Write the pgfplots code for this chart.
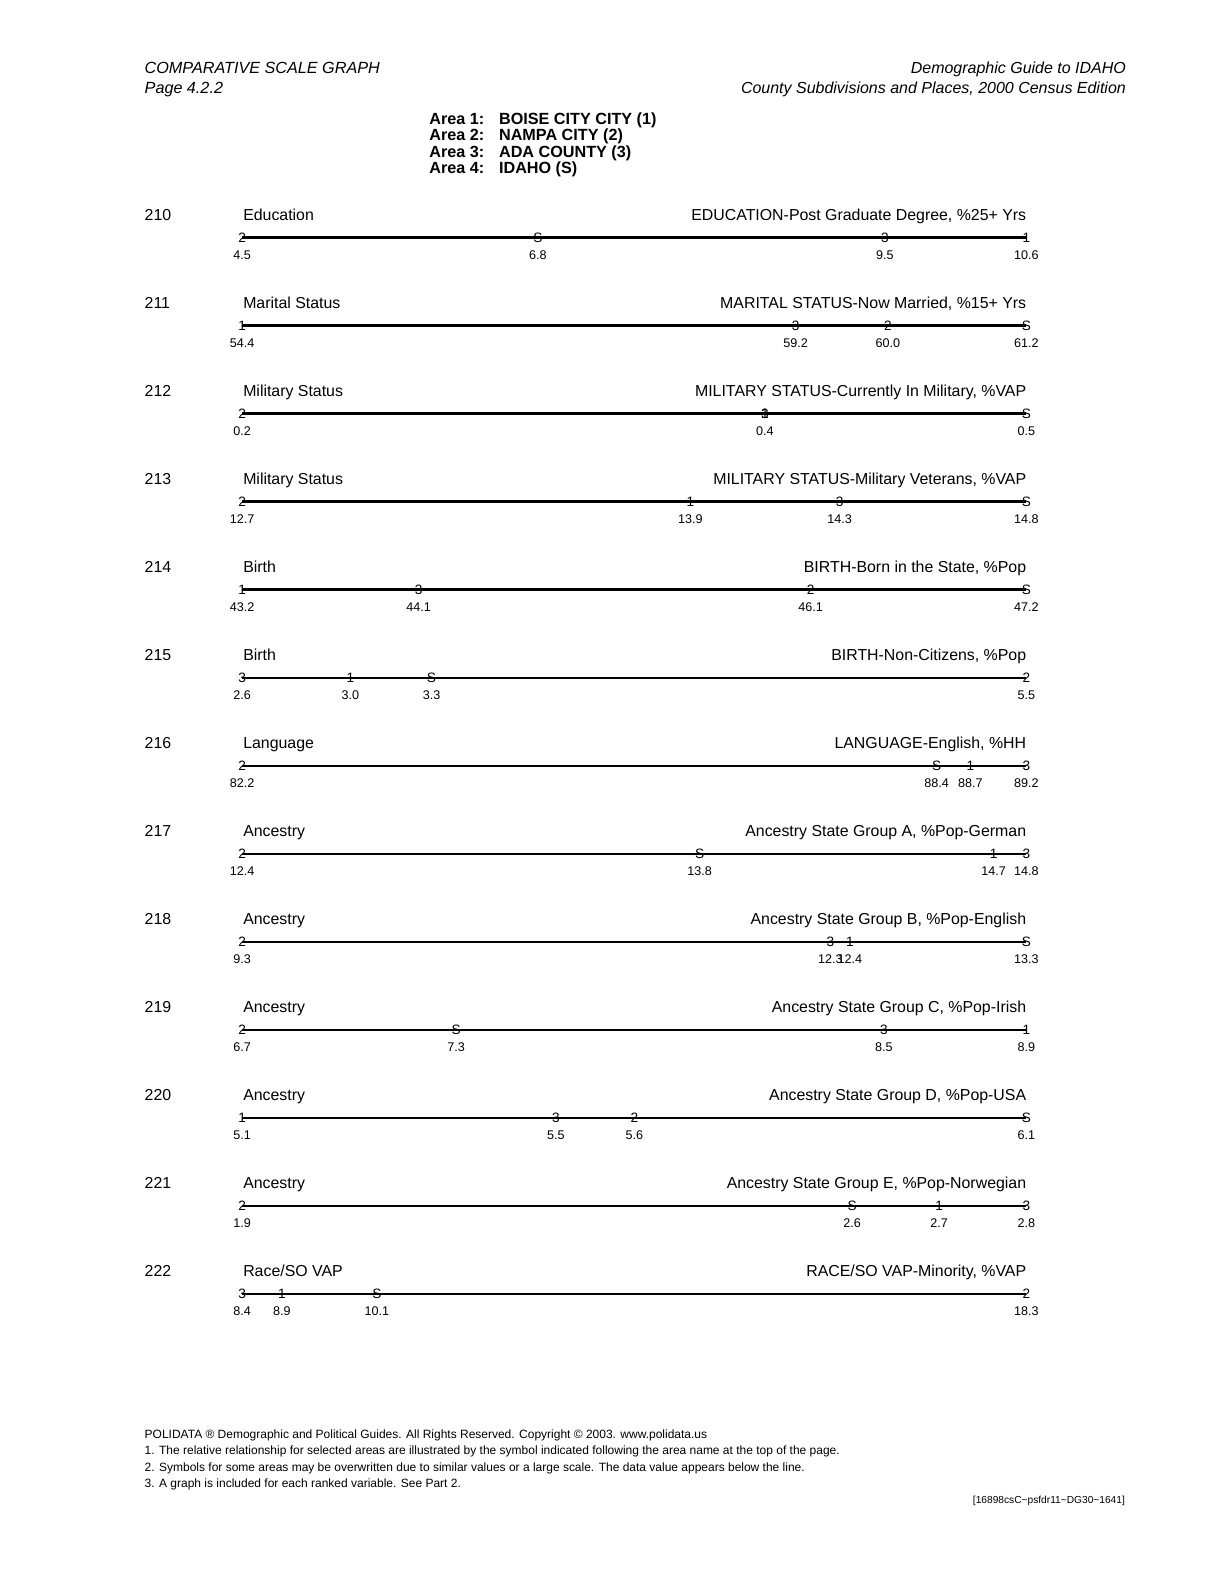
\documentclass[border=0pt]{standalone}
\usepackage{pgfplots}
\pgfplotsset{compat=1.18}
\usepackage{fontspec}
\setmainfont{Liberation Sans}
\newcommand{\hfont}{\fontsize{8.1}{9.6}\selectfont}
\newcommand{\rfont}{\fontsize{7.95}{9.4}\selectfont}
\newcommand{\symfont}{\fontsize{6.8}{7.5}\selectfont}
\newcommand{\valfont}{\fontsize{6.3}{7}\selectfont}
\newcommand{\footfont}{\fontsize{6}{7}\selectfont}
\pgfplotsset{
  rowaxis/.style={scale only axis, width=392.3pt, height=20pt, ymin=-1, ymax=1,
    hide axis, clip=false, anchor=west, enlargelimits=false},
  symplot/.style={draw=none, mark=none, nodes near coords, point meta=explicit symbolic,
    every node near coord/.append style={anchor=center, inner sep=0pt, font=\symfont, text=black}},
  valplot/.style={draw=none, mark=none, nodes near coords, point meta=explicit symbolic,
    every node near coord/.append style={anchor=center, inner sep=0pt, font=\valfont, text=black}},
  baseline/.style={black, line width=1.2pt, mark=none}
}
\newcommand{\rowtext}[4]{%
  \pgfmathsetmacro{\yb}{681.67-44.03*#1}%
  \node[anchor=base west, inner sep=0pt, font=\rfont] at (72.2pt,\yb pt) {#2};%
  \node[anchor=base west, inner sep=0pt, font=\rfont] at (121.5pt,\yb pt) {#3};%
  \node[anchor=base east, inner sep=0pt, font=\rfont] at (513.6pt,\yb pt) {#4};%
}
\begin{document}
\begin{tikzpicture}[x=1pt,y=1pt]
\path[use as bounding box] (0,0) rectangle (612,792);
% headers
\node[anchor=base west, inner sep=0pt, font=\hfont\itshape] at (72.2,755.4) {COMPARATIVE SCALE GRAPH};
\node[anchor=base west, inner sep=0pt, font=\hfont\itshape] at (72.2,745.3) {Page 4.2.2};
\node[anchor=base east, inner sep=0pt, font=\fontsize{8.0}{9.6}\selectfont\itshape] at (563.5,755.4) {Demographic Guide to IDAHO};
\node[anchor=base east, inner sep=0pt, font=\fontsize{8.0}{9.6}\selectfont\itshape] at (563.5,745.3) {County Subdivisions and Places, 2000 Census Edition};
\foreach \i/\n in {0/BOISE CITY CITY (1),1/NAMPA CITY (2),2/ADA COUNTY (3),3/IDAHO (S)}{
  \pgfmathsetmacro{\ya}{729.6-8.1*\i}
  \pgfmathtruncatemacro{\k}{\i+1}
  \node[anchor=base west, inner sep=0pt, font=\hfont\bfseries] at (214.6,\ya) {Area \k:};
  \node[anchor=base west, inner sep=0pt, font=\hfont\bfseries] at (249.5,\ya) {\n};
}
% row texts
\rowtext{0}{210}{Education}{EDUCATION-Post Graduate Degree, \%25+ Yrs}
\rowtext{1}{211}{Marital Status}{MARITAL STATUS-Now Married, \%15+ Yrs}
\rowtext{2}{212}{Military Status}{MILITARY STATUS-Currently In Military, \%VAP}
\rowtext{3}{213}{Military Status}{MILITARY STATUS-Military Veterans, \%VAP}
\rowtext{4}{214}{Birth}{BIRTH-Born in the State, \%Pop}
\rowtext{5}{215}{Birth}{BIRTH-Non-Citizens, \%Pop}
\rowtext{6}{216}{Language}{LANGUAGE-English, \%HH}
\rowtext{7}{217}{Ancestry}{Ancestry State Group A, \%Pop-German}
\rowtext{8}{218}{Ancestry}{Ancestry State Group B, \%Pop-English}
\rowtext{9}{219}{Ancestry}{Ancestry State Group C, \%Pop-Irish}
\rowtext{10}{220}{Ancestry}{Ancestry State Group D, \%Pop-USA}
\rowtext{11}{221}{Ancestry}{Ancestry State Group E, \%Pop-Norwegian}
\rowtext{12}{222}{Race/SO VAP}{RACE/SO VAP-Minority, \%VAP}
% row 210
\begin{axis}[rowaxis, at={(121.2pt,673.08pt)}, xmin=4.5, xmax=10.6]
\addplot[baseline] coordinates {(4.5,0) (10.6,0)};
\addplot[symplot] table[meta=s] {
x y s
4.5 0 2
6.8 0 S
9.5 0 3
10.6 0 1
};
\addplot[valplot] table[meta=l] {
x y l
4.5 -0.88 4.5
6.8 -0.88 6.8
9.5 -0.88 9.5
10.6 -0.88 10.6
};
\end{axis}
% row 211
\begin{axis}[rowaxis, at={(121.2pt,629.05pt)}, xmin=54.4, xmax=61.2]
\addplot[baseline] coordinates {(54.4,0) (61.2,0)};
\addplot[symplot] table[meta=s] {
x y s
54.4 0 1
59.2 0 3
60.0 0 2
61.2 0 S
};
\addplot[valplot] table[meta=l] {
x y l
54.4 -0.88 54.4
59.2 -0.88 59.2
60.0 -0.88 60.0
61.2 -0.88 61.2
};
\end{axis}
% row 212
\begin{axis}[rowaxis, at={(121.2pt,585.02pt)}, xmin=0.2, xmax=0.5]
\addplot[baseline] coordinates {(0.2,0) (0.5,0)};
\addplot[symplot] table[meta=s] {
x y s
0.2 0 2
0.4 0 1
0.4 0 3
0.5 0 S
};
\addplot[valplot] table[meta=l] {
x y l
0.2 -0.88 0.2
0.4 -0.88 0.4
0.5 -0.88 0.5
};
\end{axis}
% row 213
\begin{axis}[rowaxis, at={(121.2pt,540.99pt)}, xmin=12.7, xmax=14.8]
\addplot[baseline] coordinates {(12.7,0) (14.8,0)};
\addplot[symplot] table[meta=s] {
x y s
12.7 0 2
13.9 0 1
14.3 0 3
14.8 0 S
};
\addplot[valplot] table[meta=l] {
x y l
12.7 -0.88 12.7
13.9 -0.88 13.9
14.3 -0.88 14.3
14.8 -0.88 14.8
};
\end{axis}
% row 214
\begin{axis}[rowaxis, at={(121.2pt,496.96pt)}, xmin=43.2, xmax=47.2]
\addplot[baseline] coordinates {(43.2,0) (47.2,0)};
\addplot[symplot] table[meta=s] {
x y s
43.2 0 1
44.1 0 3
46.1 0 2
47.2 0 S
};
\addplot[valplot] table[meta=l] {
x y l
43.2 -0.88 43.2
44.1 -0.88 44.1
46.1 -0.88 46.1
47.2 -0.88 47.2
};
\end{axis}
% row 215
\begin{axis}[rowaxis, at={(121.2pt,452.93pt)}, xmin=2.6, xmax=5.5]
\addplot[baseline] coordinates {(2.6,0) (5.5,0)};
\addplot[symplot] table[meta=s] {
x y s
2.6 0 3
3.0 0 1
3.3 0 S
5.5 0 2
};
\addplot[valplot] table[meta=l] {
x y l
2.6 -0.88 2.6
3.0 -0.88 3.0
3.3 -0.88 3.3
5.5 -0.88 5.5
};
\end{axis}
% row 216
\begin{axis}[rowaxis, at={(121.2pt,408.90pt)}, xmin=82.2, xmax=89.2]
\addplot[baseline] coordinates {(82.2,0) (89.2,0)};
\addplot[symplot] table[meta=s] {
x y s
82.2 0 2
88.4 0 S
88.7 0 1
89.2 0 3
};
\addplot[valplot] table[meta=l] {
x y l
82.2 -0.88 82.2
88.4 -0.88 88.4
88.7 -0.88 88.7
89.2 -0.88 89.2
};
\end{axis}
% row 217
\begin{axis}[rowaxis, at={(121.2pt,364.87pt)}, xmin=12.4, xmax=14.8]
\addplot[baseline] coordinates {(12.4,0) (14.8,0)};
\addplot[symplot] table[meta=s] {
x y s
12.4 0 2
13.8 0 S
14.7 0 1
14.8 0 3
};
\addplot[valplot] table[meta=l] {
x y l
12.4 -0.88 12.4
13.8 -0.88 13.8
14.7 -0.88 14.7
14.8 -0.88 14.8
};
\end{axis}
% row 218
\begin{axis}[rowaxis, at={(121.2pt,320.84pt)}, xmin=9.3, xmax=13.3]
\addplot[baseline] coordinates {(9.3,0) (13.3,0)};
\addplot[symplot] table[meta=s] {
x y s
9.3 0 2
12.3 0 3
12.4 0 1
13.3 0 S
};
\addplot[valplot] table[meta=l] {
x y l
9.3 -0.88 9.3
12.3 -0.88 12.3
12.4 -0.88 12.4
13.3 -0.88 13.3
};
\end{axis}
% row 219
\begin{axis}[rowaxis, at={(121.2pt,276.81pt)}, xmin=6.7, xmax=8.9]
\addplot[baseline] coordinates {(6.7,0) (8.9,0)};
\addplot[symplot] table[meta=s] {
x y s
6.7 0 2
7.3 0 S
8.5 0 3
8.9 0 1
};
\addplot[valplot] table[meta=l] {
x y l
6.7 -0.88 6.7
7.3 -0.88 7.3
8.5 -0.88 8.5
8.9 -0.88 8.9
};
\end{axis}
% row 220
\begin{axis}[rowaxis, at={(121.2pt,232.78pt)}, xmin=5.1, xmax=6.1]
\addplot[baseline] coordinates {(5.1,0) (6.1,0)};
\addplot[symplot] table[meta=s] {
x y s
5.1 0 1
5.5 0 3
5.6 0 2
6.1 0 S
};
\addplot[valplot] table[meta=l] {
x y l
5.1 -0.88 5.1
5.5 -0.88 5.5
5.6 -0.88 5.6
6.1 -0.88 6.1
};
\end{axis}
% row 221
\begin{axis}[rowaxis, at={(121.2pt,188.75pt)}, xmin=1.9, xmax=2.8]
\addplot[baseline] coordinates {(1.9,0) (2.8,0)};
\addplot[symplot] table[meta=s] {
x y s
1.9 0 2
2.6 0 S
2.7 0 1
2.8 0 3
};
\addplot[valplot] table[meta=l] {
x y l
1.9 -0.88 1.9
2.6 -0.88 2.6
2.7 -0.88 2.7
2.8 -0.88 2.8
};
\end{axis}
% row 222
\begin{axis}[rowaxis, at={(121.2pt,144.72pt)}, xmin=8.4, xmax=18.3]
\addplot[baseline] coordinates {(8.4,0) (18.3,0)};
\addplot[symplot] table[meta=s] {
x y s
8.4 0 3
8.9 0 1
10.1 0 S
18.3 0 2
};
\addplot[valplot] table[meta=l] {
x y l
8.4 -0.88 8.4
8.9 -0.88 8.9
10.1 -0.88 10.1
18.3 -0.88 18.3
};
\end{axis}
% footer
\node[anchor=base west, inner sep=0pt, font=\footfont] at (72.2,72.4) {POLIDATA \textregistered{} Demographic and Political Guides. All Rights Reserved. Copyright \textcopyright{} 2003. www.polidata.us};
\node[anchor=base west, inner sep=0pt, font=\footfont] at (72.2,64.2) {1. The relative relationship for selected areas are illustrated by the symbol indicated following the area name at the top of the page.};
\node[anchor=base west, inner sep=0pt, font=\footfont] at (72.2,56.0) {2. Symbols for some areas may be overwritten due to similar values or a large scale. The data value appears below the line.};
\node[anchor=base west, inner sep=0pt, font=\footfont] at (72.2,47.8) {3. A graph is included for each ranked variable. See Part 2.};
\node[anchor=base east, inner sep=0pt, font=\fontsize{5.1}{6}\selectfont] at (563,39.6) {[16898csC\textasciitilde psfdr11\textasciitilde DG30\textasciitilde 1641]};
\end{tikzpicture}
\end{document}
